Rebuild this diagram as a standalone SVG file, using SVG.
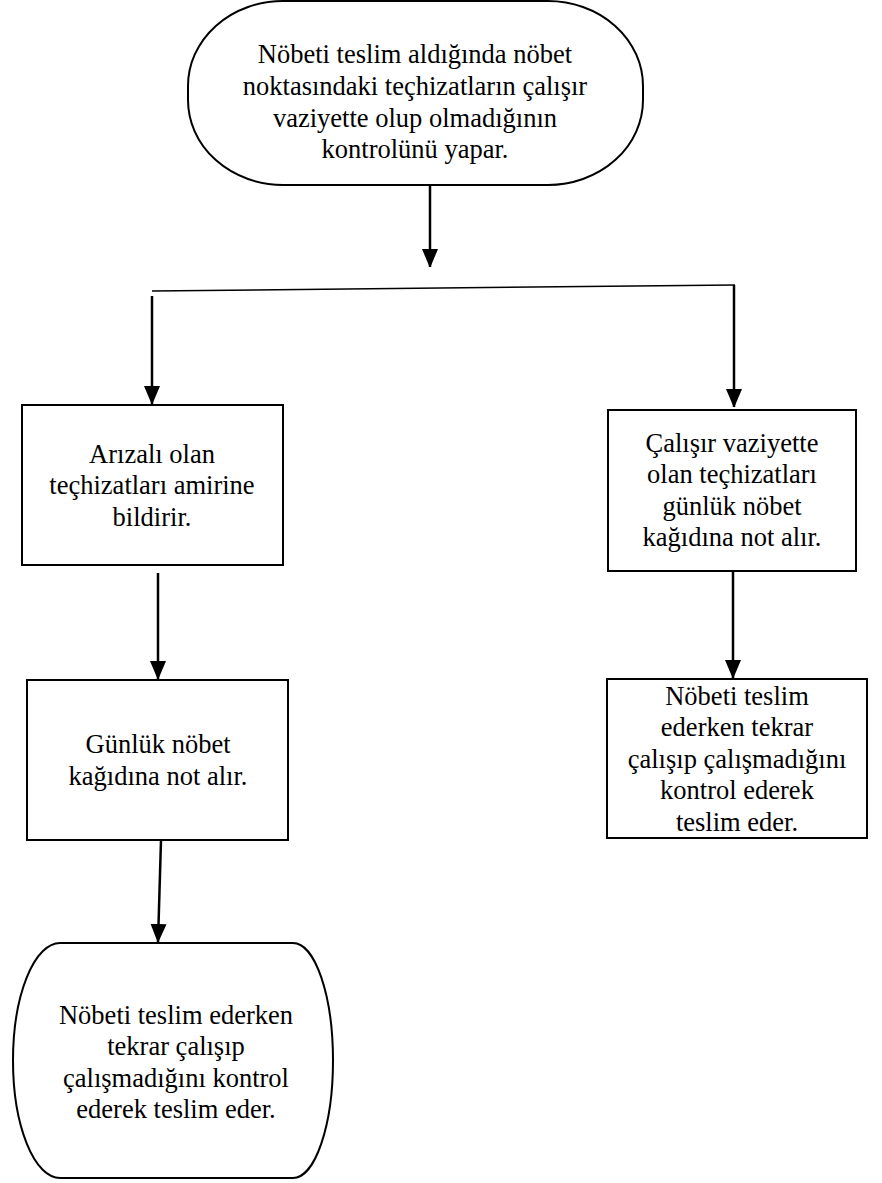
<svg xmlns="http://www.w3.org/2000/svg" width="882" height="1183" viewBox="0 0 882 1183">
<style>
.shape{fill:#fff;stroke:#000;stroke-width:2}
.conn{fill:none;stroke:#000;stroke-width:2.5}
text{font-family:"Liberation Serif","Times New Roman","DejaVu Serif",serif;font-size:26.5px;fill:#000;text-anchor:middle}
</style>
<defs>
<marker id="ah" markerUnits="userSpaceOnUse" markerWidth="18" markerHeight="20" refX="18" refY="8" orient="auto">
<path d="M0,0 L19,8 L0,16 Z" fill="#000"/>
</marker>
</defs>
<rect width="882" height="1183" fill="#fff"/>
<g id="connectors">
<line class="conn" x1="430" y1="185" x2="430" y2="267" marker-end="url(#ah)"/>
<line x1="152" y1="291" x2="735" y2="285" stroke="#000" stroke-width="1.5"/>
<line class="conn" x1="152" y1="296" x2="152" y2="404" marker-end="url(#ah)"/>
<line class="conn" x1="734" y1="285" x2="734" y2="407" marker-end="url(#ah)"/>
<line class="conn" x1="158" y1="573" x2="158" y2="679" marker-end="url(#ah)"/>
<line class="conn" x1="161" y1="840" x2="158" y2="942" marker-end="url(#ah)"/>
<line class="conn" x1="733" y1="571" x2="733" y2="678" marker-end="url(#ah)"/>
</g>
<g id="n1">
<rect class="shape" x="188" y="1" width="455" height="184" rx="95" ry="85"/>
<text x="415" y="63">Nöbeti teslim aldığında nöbet</text>
<text x="415" y="95">noktasındaki teçhizatların çalışır</text>
<text x="415" y="127">vaziyette olup olmadığının</text>
<text x="415" y="158">kontrolünü yapar.</text>
</g>
<g id="n2">
<rect class="shape" x="22" y="405" width="261" height="160"/>
<text x="152" y="463">Arızalı olan</text>
<text x="152" y="494">teçhizatları amirine</text>
<text x="152" y="526">bildirir.</text>
</g>
<g id="n3">
<rect class="shape" x="27" y="680" width="261" height="160"/>
<text x="158" y="753">Günlük nöbet</text>
<text x="158" y="785">kağıdına not alır.</text>
</g>
<g id="n4">
<path class="shape" d="M60,943 H293 A40,117.5 0 0 1 293,1178 H60 A47,117.5 0 0 1 60,943 Z"/>
<text x="176" y="1024">Nöbeti teslim ederken</text>
<text x="176" y="1055">tekrar çalışıp</text>
<text x="176" y="1087">çalışmadığını kontrol</text>
<text x="176" y="1118">ederek teslim eder.</text>
</g>
<g id="n5">
<rect class="shape" x="608" y="410" width="248" height="161"/>
<text x="732" y="452">Çalışır vaziyette</text>
<text x="732" y="483">olan teçhizatları</text>
<text x="732" y="515">günlük nöbet</text>
<text x="732" y="546">kağıdına not alır.</text>
</g>
<g id="n6">
<rect class="shape" x="607" y="679" width="260" height="159"/>
<text x="737" y="705">Nöbeti teslim</text>
<text x="737" y="736">ederken tekrar</text>
<text x="737" y="768">çalışıp çalışmadığını</text>
<text x="737" y="799">kontrol ederek</text>
<text x="737" y="831">teslim eder.</text>
</g>
</svg>
